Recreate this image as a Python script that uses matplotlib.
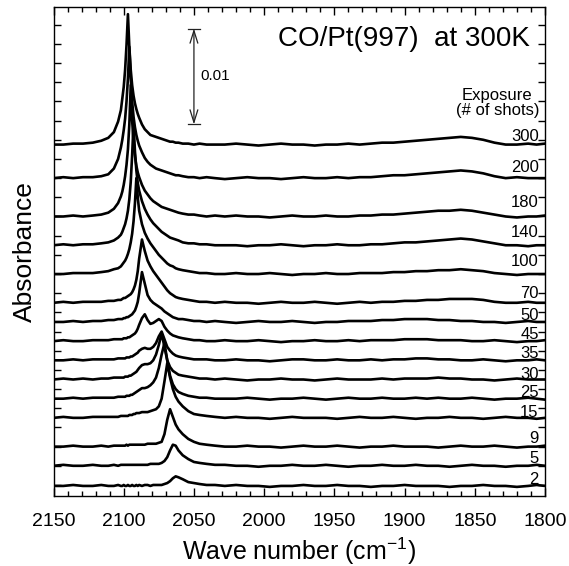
import numpy as np
import matplotlib
matplotlib.use("Agg")
import matplotlib.pyplot as plt
from matplotlib.ticker import MultipleLocator

plt.rcParams['font.family'] = ['Liberation Sans', 'DejaVu Sans']
plt.rcParams['mathtext.default'] = 'regular'

# wave number grid (cm-1), shared by every spectrum
wn = [2150, 2143, 2136, 2129, 2122, 2116, 2111, 2107, 2104, 2102,
      2101, 2100, 2099, 2098, 2097, 2096, 2095, 2094, 2093, 2092, 2091, 2090,
      2089, 2087, 2085, 2083, 2081, 2079, 2077, 2075, 2073, 2071, 2069, 2067, 2065, 2063, 2061,
      2058, 2054, 2050, 2046, 2041, 2035,
      2028, 2020, 2012, 2004, 1996, 1988, 1980, 1972, 1964, 1956, 1948, 1940, 1932, 1924, 1916,
      1908, 1900, 1892, 1884, 1876, 1868, 1860, 1852, 1844, 1836, 1828, 1820, 1812, 1806, 1800]

# absorbance of each spectrum above its own baseline, in units of 1e-4
a2 = [0, 0, 1, 0, 0, 1, 0, 0, 1, 0,
      0, 1, 0, 0, 1, 0, 0, 1, 0, 0, 1, 0,
      1, 0, 1, 1, 0, 1, 1, 1, 1, 2, 3, 5, 8, 10, 9,
      7, 4, 3, 2, 1, 1,
      0, 1, 0, 0, -1, 0, 0, 1, 0, 0, 1, 0, 0, -1, 0, 0, 1, 0, 0, 0, -1, 0, 0, 1, 0, 0, -1, 0, 1, 0]
a5 = [0, 1, 0, 0, 1, 0, 0, 1, 0, 1,
      1, 1, 1, 1, 1, 1, 1, 1, 1, 1, 1, 1,
      1, 1, 1, 1, 2, 2, 2, 2, 3, 5, 9, 16, 22, 21, 16,
      11, 7, 4, 3, 2, 1,
      1, 0, 0, -1, 0, 0, 1, 0, 0, 1, 0, -1, 0, 0, 1, 0, 0, 1, 0, 0, -1, 0, 1, 0, 0, -1, 0, 0, 1, 0]
a9 = [0, 0, 1, 0, 0, 1, 0, 1, 1, 1,
      1, 1, 1, 2, 1, 2, 2, 2, 2, 2, 2, 2,
      2, 2, 2, 3, 3, 3, 3, 4, 5, 13, 28, 39, 31, 23, 18,
      13, 8, 5, 3, 2, 1,
      0, 0, 1, 0, 0, -1, 0, 1, 0, 0, 1, 0, -1, 0, 0, 1, 0, 0, 0, -1, 0, 1, 0, 0, 1, 0, -1, 0, 0, 1]
a15 = [0, 1, 0, 0, 1, 1, 1, 1, 1, 2,
       2, 2, 2, 2, 2, 3, 3, 3, 4, 4, 5, 5,
       5, 6, 6, 6, 7, 8, 9, 12, 20, 38, 57, 42, 30, 22, 17,
       12, 7, 4, 3, 2, 1,
       0, 1, 0, 0, -1, 0, 1, 0, 0, 0, -1, 0, 1, 0, 0, 1, 0, -1, 0, 0, 1, 0, 0, -1, 0, 1, 0, 0, -1, 0]
a25 = [0, 0, 1, 0, 1, 1, 1, 1, 2, 2,
       2, 2, 2, 3, 3, 3, 4, 4, 5, 6, 7, 8,
       9, 11, 11, 12, 14, 17, 22, 32, 46, 58, 40, 24, 15, 10, 7,
       5, 3, 2, 1, 1, 0,
       0, 0, 1, 0, -1, 0, 0, 1, 0, -1, 0, 1, 0, 0, 1, 0, 0, 1, 0, 1, 0, 0, 1, 0, -1, 0, 0, 1, 0, -1]
a30 = [0, 1, 0, 1, 0, 1, 1, 2, 2, 2,
       2, 2, 3, 3, 3, 4, 4, 5, 6, 7, 8, 10,
       12, 15, 16, 16, 17, 20, 26, 36, 48, 34, 20, 13, 9, 7, 5,
       4, 3, 2, 1, 1, 0,
       1, 0, -1, 0, 0, 1, 0, 0, -1, 0, 1, 0, 0, 0, 1, 0, 1, 1, 1, 2, 1, 1, 0, 0, -1, 0, 1, 0, 0, 0]
a35 = [0, 0, 1, 0, 1, 1, 1, 1, 2, 2,
       2, 2, 2, 3, 3, 3, 4, 4, 5, 6, 7, 8,
       10, 12, 13, 12, 12, 14, 18, 25, 30, 22, 14, 10, 7, 5, 4,
       3, 2, 1, 1, 1, 0,
       0, 1, 0, 0, -1, 0, 1, 1, 0, 0, 1, 0, 0, 1, 0, 1, 1, 2, 2, 1, 1, 0, 0, 1, 0, -1, 0, 0, 1, 0]
a45 = [0, 1, 0, 0, 1, 1, 1, 2, 2, 2,
       2, 3, 3, 3, 4, 4, 5, 6, 7, 8, 10, 13,
       17, 24, 28, 22, 18, 19, 21, 23, 21, 15, 11, 8, 6, 5, 4,
       3, 2, 1, 1, 0, 0,
       1, 0, 0, 1, 0, -1, 0, 0, 1, 0, 0, 1, 0, 1, 1, 1, 2, 2, 2, 1, 1, 1, 0, 0, 1, 0, -1, 0, 0, 1]
a50 = [0, 0, 1, 0, 1, 1, 2, 2, 3, 3,
       3, 4, 4, 5, 5, 6, 7, 8, 10, 12, 16, 21,
       30, 52, 40, 28, 23, 20, 18, 16, 14, 11, 9, 7, 5, 4, 3,
       3, 2, 1, 1, 0, 1,
       0, -1, 0, 1, 0, 0, 1, 0, -1, 0, 0, 1, 1, 1, 2, 2, 3, 3, 3, 2, 2, 1, 1, 0, 0, -1, 0, 1, 0, 0]
a70 = [0, 1, 0, 1, 1, 1, 2, 2, 3, 3,
       4, 5, 5, 6, 7, 8, 9, 11, 14, 18, 24, 33,
       46, 66, 54, 44, 38, 33, 29, 25, 21, 17, 13, 10, 8, 6, 5,
       4, 3, 2, 1, 1, 0,
       1, 0, 0, -1, 0, 1, 0, 0, 1, 0, -1, 0, 1, 0, 1, 1, 2, 2, 3, 3, 4, 4, 4, 3, 1, 0, 0, 1, 0, 0]
a100 = [0, 0, 1, 1, 1, 2, 3, 5, 6, 8,
        10, 12, 14, 17, 21, 26, 33, 42, 55, 74, 100, 80,
        66, 52, 43, 37, 32, 28, 24, 20, 17, 14, 11, 9, 8, 6, 5,
        4, 3, 2, 1, 1, 0,
        0, 1, 0, 0, 1, 0, -1, 0, 0, 1, 0, 0, 1, 1, 1, 2, 2, 3, 3, 4, 4, 5, 4, 3, 1, 0, -1, 0, 0, 0]
a140 = [0, 1, 0, 1, 1, 2, 3, 5, 8, 11,
        14, 18, 22, 28, 36, 48, 66, 94, 127, 98, 78, 65,
        57, 46, 38, 32, 27, 23, 20, 17, 14, 12, 10, 8, 7, 6, 5,
        3, 2, 2, 1, 1, 0,
        0, 0, -1, 0, 0, 1, 0, -1, 0, 0, 1, 0, 0, 1, 1, 2, 3, 3, 4, 5, 6, 7, 6, 4, 2, 0, 0, -1, 0, 0]
a180 = [0, 0, 1, 0, 1, 2, 4, 8, 14, 21,
        26, 33, 42, 54, 70, 96, 137, 100, 78, 63, 53, 46,
        41, 33, 27, 23, 19, 16, 14, 12, 10, 9, 8, 7, 6, 5, 4,
        3, 2, 2, 1, 0, 1,
        0, 1, 0, 0, -1, 0, 1, 0, 0, 1, 0, 0, 1, 1, 2, 2, 3, 4, 5, 6, 6, 7, 6, 4, 2, 0, -1, 0, 0, 1]
a200 = [0, 1, 0, 1, 1, 2, 4, 10, 20, 32,
        40, 50, 62, 80, 104, 137, 104, 80, 64, 53, 45, 39,
        34, 27, 21, 17, 14, 12, 10, 9, 8, 7, 6, 5, 4, 3, 3,
        2, 1, 1, 0, 1, 0,
        -1, 0, 1, 0, 0, -1, 0, 1, 0, 0, 1, 0, 1, 1, 2, 3, 3, 4, 5, 6, 7, 8, 7, 5, 2, 0, 1, 0, 0, 0]
a300 = [0, 0, 1, 1, 2, 4, 7, 13, 24, 36,
        48, 60, 78, 104, 136, 102, 78, 62, 51, 43, 37, 32,
        28, 21, 16, 13, 10, 9, 8, 7, 6, 5, 4, 3, 3, 2, 2,
        1, 1, 0, 1, 0, 0,
        0, 1, 0, -1, 0, 1, 0, 0, -1, 0, 0, 1, 0, 1, 2, 2, 3, 4, 5, 6, 7, 8, 7, 5, 2, 0, 0, 1, 0, 1]

exposures = ['2', '5', '9', '15', '25', '30', '35', '45', '50', '70', '100', '140', '180', '200', '300']
offsets = [-0.0001, 0.002, 0.004, 0.007, 0.009, 0.011, 0.013, 0.015, 0.017, 0.019,
           0.022, 0.025, 0.028, 0.032, 0.0355]
label_y = [0.0001, 0.0023, 0.0044, 0.0071, 0.0092, 0.0111, 0.0132, 0.0152, 0.0172, 0.0195,
           0.0228, 0.0259, 0.0290, 0.0326, 0.0359]
spectra = [a2, a5, a9, a15, a25, a30, a35, a45, a50, a70, a100, a140, a180, a200, a300]

# 0.01 scale bar
bar_x = 2050
bar_top = 0.0476
bar_len = 0.01

fig = plt.figure(figsize=(5.69, 5.66), dpi=100)
ax = fig.add_axes([53.5 / 569, 70 / 566, 491.5 / 569, 489.5 / 566])

for a, off in zip(spectra, offsets):
    ax.plot(wn, np.array(a) * 1e-4 + off, color='black', lw=1.9, solid_joinstyle='round')

for lab, yl in zip(exposures, label_y):
    ax.text(1804.5, yl, lab, ha='right', va='baseline', fontsize=12)

ax.text(1810.5, 0.04574, 'CO/Pt(997)  at 300K', ha='right', va='baseline', fontsize=20)
ax.text(1834, 0.04018, 'Exposure', ha='center', va='baseline', fontsize=12)
ax.text(1834, 0.03861, '(# of shots)', ha='center', va='baseline', fontsize=12)

ax.annotate('', xy=(bar_x, bar_top), xytext=(bar_x, bar_top - bar_len),
            arrowprops=dict(arrowstyle='<->,head_length=0.9,head_width=0.28',
                            lw=0.9, color='#222222', shrinkA=0, shrinkB=0))
ax.plot([bar_x + 4, bar_x - 4], [bar_top, bar_top], color='#222222', lw=0.9)
ax.plot([bar_x + 4, bar_x - 4], [bar_top - bar_len, bar_top - bar_len], color='#222222', lw=0.9)
ax.text(2045.5, bar_top - bar_len / 2, '0.01', ha='left', va='center', fontsize=11)

ax.set_xlim(2150, 1800)
ax.set_ylim(-0.00115, 0.0499)
ax.set_xticks([2150, 2100, 2050, 2000, 1950, 1900, 1850, 1800])
ax.xaxis.set_minor_locator(MultipleLocator(10))
ax.set_yticks(np.arange(0, 0.0481, 0.002))
ax.tick_params(axis='x', which='major', direction='in', length=6, width=1, top=True,
               labelsize=14, pad=12)
ax.tick_params(axis='x', which='minor', direction='in', length=3.5, width=1, top=True)
ax.tick_params(axis='y', which='major', direction='in', length=5, width=1, right=True,
               labelleft=False)
for s in ax.spines.values():
    s.set_linewidth(1.0)

ax.set_xlabel('Wave number (cm$^{-1}$)', fontsize=18)
ax.xaxis.set_label_coords(0.5, -0.08)
ax.set_ylabel('Absorbance', fontsize=19)
ax.yaxis.set_label_coords(-0.034, 0.5)

fig.savefig('out.png', dpi=100)
